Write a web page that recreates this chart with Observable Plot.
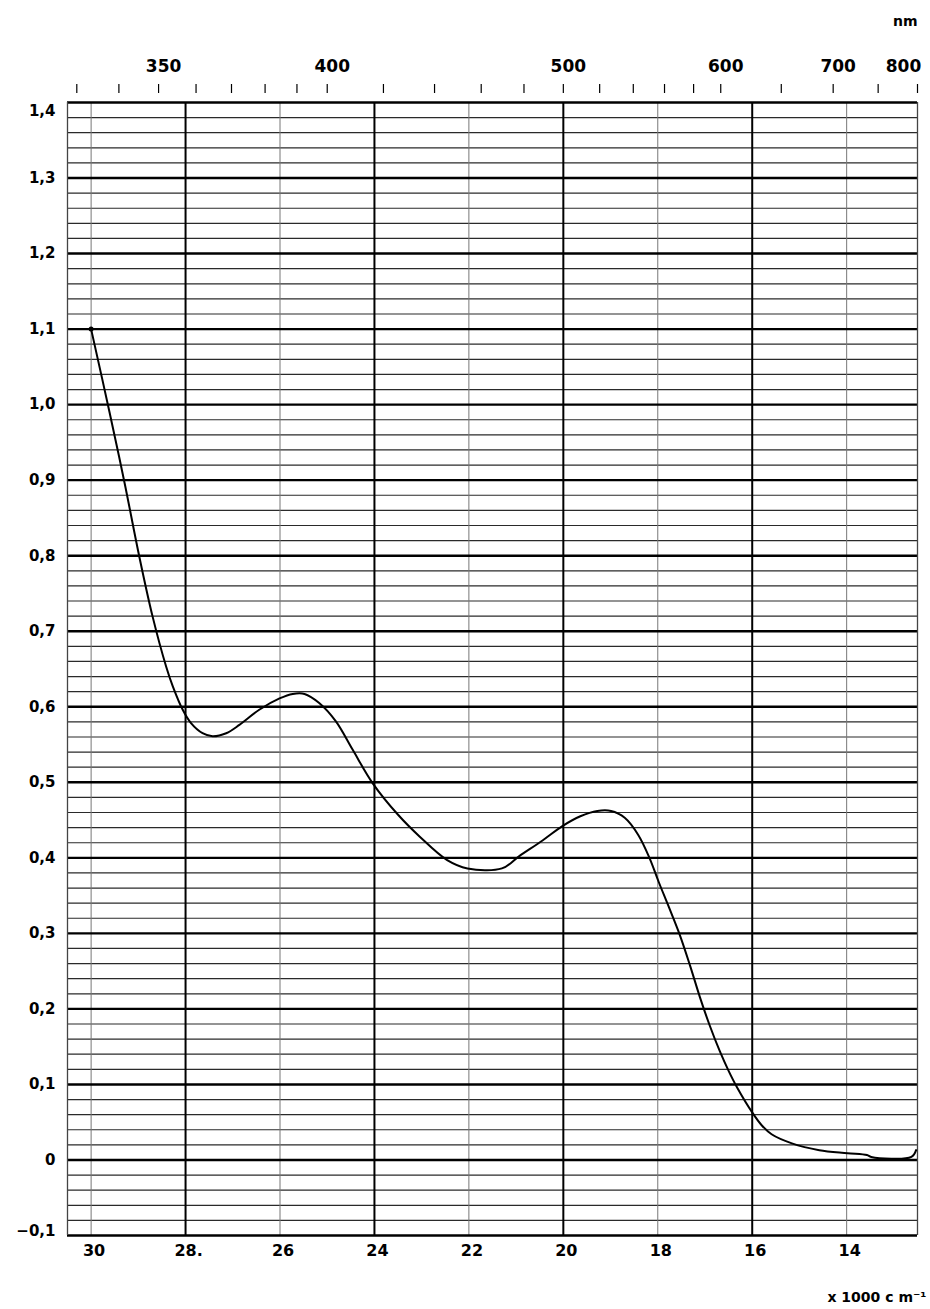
<!DOCTYPE html>
<html><head><meta charset="utf-8">
<script src="https://cdn.jsdelivr.net/npm/d3@7"></script>
<script src="https://cdn.jsdelivr.net/npm/@observablehq/plot@0.6"></script>
<style>body{margin:0;background:#fff} svg{display:block}</style>
</head><body><div id="chart"></div>
<script>
// Absorption spectrum: x = wavenumber (x1000 cm^-1), y = absorbance
const wavenumber = [30.0, 29.61, 29.29, 28.98, 28.70, 28.41, 28.27, 28.06, 27.88, 27.64, 27.43, 27.14, 26.86, 26.44, 26.01, 25.73, 25.48, 25.17, 24.82, 24.46, 24.04, 23.50, 23.04, 22.46, 22.03, 21.30, 20.94, 20.44, 20.02, 19.64, 19.28, 18.99, 18.70, 18.41, 18.17, 17.98, 17.76, 17.54, 17.32, 17.11, 16.90, 16.68, 16.50, 16.32, 15.99, 15.80, 15.59, 15.16, 14.58, 13.98, 13.57, 13.48, 12.63, 12.53];
const absorbance = [1.10, 0.99, 0.896, 0.799, 0.720, 0.653, 0.627, 0.596, 0.578, 0.565, 0.561, 0.565, 0.576, 0.596, 0.611, 0.617, 0.617, 0.605, 0.581, 0.543, 0.499, 0.457, 0.428, 0.397, 0.386, 0.386, 0.402, 0.423, 0.442, 0.455, 0.462, 0.462, 0.453, 0.430, 0.399, 0.368, 0.334, 0.299, 0.258, 0.216, 0.178, 0.143, 0.118, 0.096, 0.062, 0.046, 0.034, 0.022, 0.013, 0.009, 0.0065, 0.004, 0.004, 0.013];

const yLabelValues = [1.4, 1.3, 1.2, 1.1, 1.0, 0.9, 0.8, 0.7, 0.6, 0.5, 0.4, 0.3, 0.2, 0.1, 0, -0.1];
const yLabelText = ["1,4", "1,3", "1,2", "1,1", "1,0", "0,9", "0,8", "0,7", "0,6", "0,5", "0,4", "0,3", "0,2", "0,1", "0", "\u22120,1"];
const xLabelValues = [30, 28, 26, 24, 22, 20, 18, 16, 14];
const xLabelText = ["30", "28.", "26", "24", "22", "20", "18", "16", "14"];
const nmTicks = [330, 340, 350, 360, 370, 380, 390, 400, 420, 440, 460, 480, 500, 520, 540, 560, 580, 600, 650, 700, 750, 800];
const nmLabels = [350, 400, 500, 600, 700, 800];
const majorVertical = [28, 24, 20, 16];
const minorVertical = [30, 26, 22, 18, 14];
const xDomain = [30.5, 12.5];
const yDomain = [-0.1, 1.4];

const points = wavenumber.map((w, i) => ({w, a: absorbance[i]}));
const gridAll = d3.range(-5, 71).map(k => +(k * 0.02).toFixed(2));
const majorH = gridAll.filter(v => Math.abs(Math.round(v * 10) - v * 10) < 1e-6);
const minorH = gridAll.filter(v => !majorH.includes(v));
const yLabels = yLabelValues.map((v, i) => ({v, t: yLabelText[i]}));
const xLabels = xLabelValues.map((v, i) => ({v, t: xLabelText[i]}));

const chart = Plot.plot({
  width: 930, height: 1309,
  marginLeft: 67, marginRight: 13, marginTop: 102, marginBottom: 74,
  x: {domain: xDomain, axis: null},
  y: {domain: yDomain, axis: null},
  style: {fontFamily: "'DejaVu Sans', Verdana, sans-serif", fontSize: "15px", fontWeight: "bold", color: "#000", background: "#fff"},
  marks: [
    Plot.ruleY(minorH, {stroke: "#2a2a2a", strokeWidth: 1.2}),
    Plot.ruleX(minorVertical, {stroke: "#777", strokeWidth: 1}),
    Plot.ruleX(majorVertical, {stroke: "#000", strokeWidth: 2}),
    Plot.ruleY(majorH, {stroke: "#000", strokeWidth: 2.4}),
    Plot.ruleX(xDomain, {stroke: "#444", strokeWidth: 1.3}),
    Plot.axisX(nmTicks.map(n => 1e4 / n), {anchor: "top", tickSize: 9, fill: "none", dy: -10, label: null, strokeWidth: 1.2}),
    Plot.text(nmLabels.filter(n => n < 800), {x: n => 1e4 / n, text: n => String(n), frameAnchor: "top", lineAnchor: "middle", dy: -36, dx: 5, fontSize: 17, letterSpacing: 1.5}),
    Plot.text(nmLabels.filter(n => n >= 800), {x: n => 1e4 / n, text: n => String(n), frameAnchor: "top", lineAnchor: "middle", dy: -36, dx: -14, fontSize: 17, letterSpacing: 1.5}),
    Plot.text(["nm"], {frameAnchor: "top-right", lineAnchor: "middle", dy: -81, dx: 0, fontSize: 14, letterSpacing: 2}),
    Plot.text(yLabels.filter(d => d.v < 1.35 && d.v > -0.05), {y: "v", text: "t", frameAnchor: "left", textAnchor: "end", lineAnchor: "middle", dx: -12}),
    Plot.text(yLabels.filter(d => d.v > 1.35), {y: "v", text: "t", frameAnchor: "left", textAnchor: "end", lineAnchor: "top", dx: -12, dy: 3}),
    Plot.text(yLabels.filter(d => d.v < -0.05), {y: "v", text: "t", frameAnchor: "left", textAnchor: "end", lineAnchor: "bottom", dx: -12, dy: 0}),
    Plot.text(xLabels, {x: "v", text: "t", frameAnchor: "bottom", lineAnchor: "middle", dy: 15, dx: 3, fontSize: 16, letterSpacing: 2}),
    Plot.text(["x 1000 c m\u207B\u00B9"], {frameAnchor: "bottom-right", lineAnchor: "middle", dy: 62, dx: 9, fontSize: 14}),
    Plot.line(points, {x: "w", y: "a", stroke: "#000", strokeWidth: 2, curve: "catmull-rom"}),
    Plot.dot(points.slice(0, 1), {x: "w", y: "a", r: 2.5, fill: "#000"})
  ]
});
document.getElementById("chart").append(chart);
</script>
</body></html>
